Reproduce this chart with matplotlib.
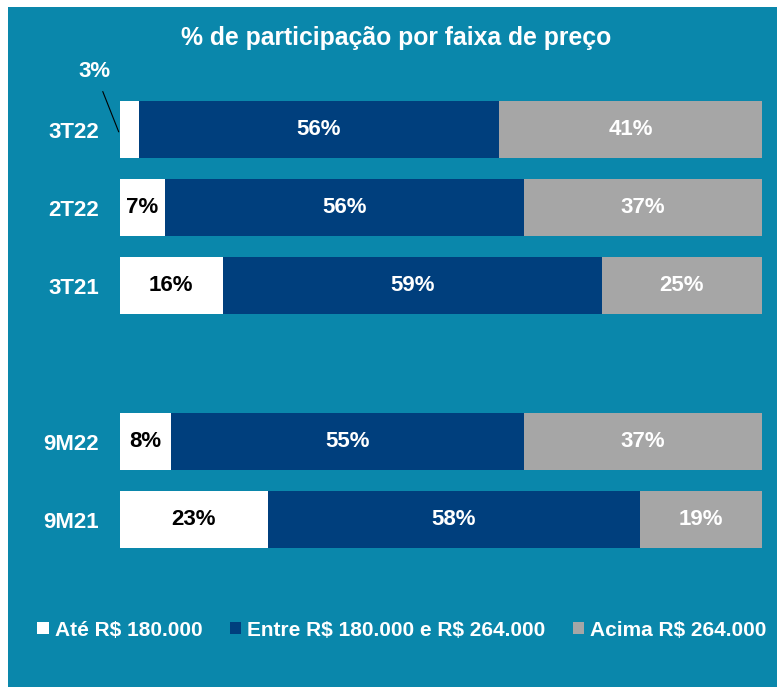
import matplotlib.pyplot as plt
from matplotlib.patches import Patch

# Share of sales per price range
periods = ['3T22', '2T22', '3T21', '9M22', '9M21']
row_pos = [0, 1, 2, 4, 5]
ate_180 = [3, 7, 16, 8, 23]
entre_180_264 = [56, 56, 59, 55, 58]
acima_264 = [41, 37, 25, 37, 19]

series_names = [r'Até R\$ 180.000', r'Entre R\$ 180.000 e R\$ 264.000', r'Acima R\$ 264.000']
series_colors = ['#ffffff', '#003f7d', '#a6a6a6']
label_colors = ['black', 'white', 'white']

bg = '#0a87ab'
plt.rcParams['font.family'] = ['Liberation Sans', 'DejaVu Sans']
plt.rcParams['font.weight'] = 'bold'

fig = plt.figure(figsize=(7.77, 6.87), dpi=100, facecolor='white')
# teal panel, leaving a thin white strip on top and left
bg_ax = fig.add_axes([8 / 777, 0, 1 - 8 / 777, 1 - 7 / 687], zorder=-10)
bg_ax.set_facecolor(bg)
bg_ax.set_xticks([])
bg_ax.set_yticks([])
for s in bg_ax.spines.values():
    s.set_visible(False)

ax = fig.add_axes([120 / 777, 1 - 558.5 / 687, 642 / 777, 468 / 687], zorder=1)
ax.set_facecolor('none')

left = [0] * len(periods)
for vals, color, txt_color in zip([ate_180, entre_180_264, acima_264], series_colors, label_colors):
    ax.barh(row_pos, vals, left=left, height=0.73, color=color, edgecolor='none')
    for y, v, l in zip(row_pos, vals, left):
        if v >= 5:
            ax.text(l + v / 2, y, f'{v}%', ha='center', va='center',
                    color=txt_color, fontsize=16, fontweight='bold')
    left = [a + b for a, b in zip(left, vals)]

# small slice gets an outside label with a leader line
ax.annotate(f'{ate_180[0]}%', xy=(-0.2, 0.03), xytext=(-3.9, -0.74),
            textcoords='data', ha='center', va='center', color='white',
            fontsize=16, fontweight='bold', annotation_clip=False,
            arrowprops=dict(arrowstyle='-', color='black', lw=0.8, shrinkA=5, shrinkB=0))

ax.set_xlim(0, 100)
ax.set_ylim(5.5, -0.5)
ax.set_yticks(row_pos)
ax.set_yticklabels(periods, color='white', fontsize=16, fontweight='bold')
ax.tick_params(axis='y', length=0, pad=15)
ax.set_xticks([])
for s in ax.spines.values():
    s.set_visible(False)

fig.text(396 / 777, 1 - 38 / 687, '% de participação por faixa de preço',
         ha='center', va='center', color='white', fontsize=17.8, fontweight='bold')

handles = [Patch(facecolor=c, edgecolor='none') for c in series_colors]
fig.legend(handles, series_names, loc='center', bbox_to_anchor=(402 / 777, 1 - 630 / 687),
           ncol=3, frameon=False, fontsize=15, labelcolor='white',
           handlelength=0.55, handleheight=0.55, handletextpad=0.3, columnspacing=1.3)

fig.savefig('out.png', dpi=100, facecolor='white')
